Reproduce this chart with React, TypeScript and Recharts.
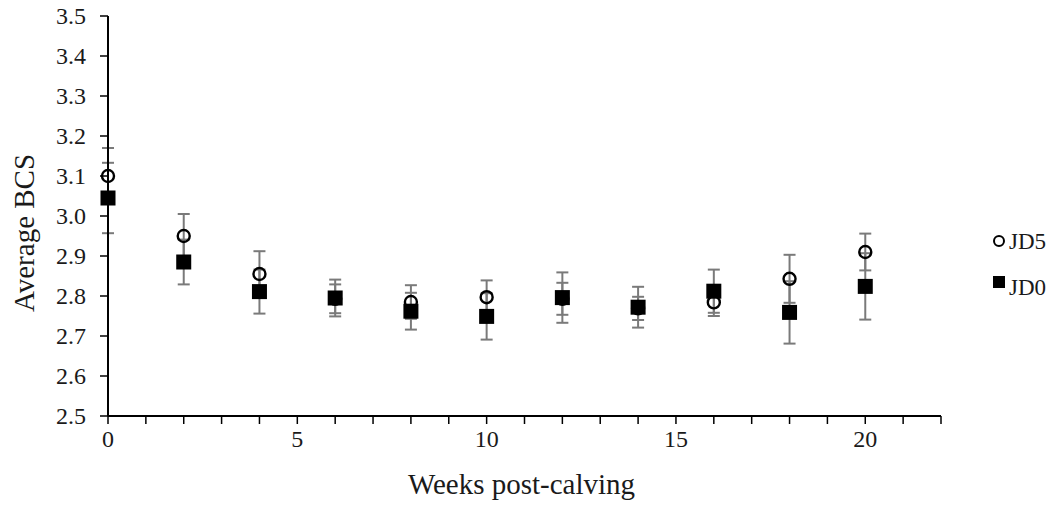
import React from "react";
import { ScatterChart, Scatter, XAxis, YAxis, ErrorBar } from "recharts";

const weeks = [0, 2, 4, 6, 8, 10, 12, 14, 16, 18, 20];
const jd5 = [3.1, 2.95, 2.855, 2.793, 2.785, 2.797, 2.793, 2.769, 2.784, 2.843, 2.91];
const jd5Err = [0.07, 0.055, 0.057, 0.036, 0.042, 0.042, 0.04, 0.029, 0.034, 0.06, 0.046];
const jd0 = [3.045, 2.885, 2.811, 2.795, 2.762, 2.749, 2.796, 2.772, 2.812, 2.759, 2.824];
const jd0Err = [0.088, 0.056, 0.055, 0.046, 0.046, 0.058, 0.063, 0.051, 0.054, 0.078, 0.083];

const xTicks = Array.from({ length: 23 }, (_, i) => i);
const yTicks = [2.5, 2.6, 2.7, 2.8, 2.9, 3.0, 3.1, 3.2, 3.3, 3.4, 3.5];

const jd5Data = weeks.map((w, i) => ({ x: w, y: jd5[i], err: jd5Err[i] }));
const jd0Data = weeks.map((w, i) => ({ x: w, y: jd0[i], err: jd0Err[i] }));

const FONT = "'Liberation Serif', serif";
const TEXT = "#1a1a1a";
const BAR = "#7a7a7a";
const textStyle = { fontFamily: FONT };

const Circle = (p: any) => (
  <circle cx={p.cx} cy={p.cy} r={6} fill="none" stroke="#000" strokeWidth={2.4} />
);
const Square = (p: any) => (
  <rect x={p.cx - 7.5} y={p.cy - 7.5} width={15} height={15} fill="#000" />
);

const XTick = ({ x, y, payload }: any) =>
  payload.value % 5 === 0 ? (
    <text x={x} y={y + 17} textAnchor="middle" style={textStyle} fontSize={24} fill={TEXT}>
      {payload.value}
    </text>
  ) : null;

const YTick = ({ x, y, payload }: any) => (
  <text x={x} y={y + 8} textAnchor="end" style={textStyle} fontSize={24} fill={TEXT}>
    {Number(payload.value).toFixed(1)}
  </text>
);

const YTitle = ({ viewBox }: any) => {
  const x = viewBox.x + 24;
  const y = viewBox.y + viewBox.height / 2 + 17;
  return (
    <text
      x={x}
      y={y}
      transform={`rotate(-90 ${x} ${y})`}
      textAnchor="middle"
      dominantBaseline="central"
      style={textStyle}
      fontSize={29}
      fill={TEXT}
    >
      Average BCS
    </text>
  );
};

const XTitle = ({ viewBox }: any) => (
  <text
    x={viewBox.x + viewBox.width / 2 - 3}
    y={494}
    textAnchor="middle"
    style={textStyle}
    fontSize={29}
    fill={TEXT}
  >
    Weeks post-calving
  </text>
);

const App = () => {
  return (
    <div
      style={{
        position: "absolute",
        left: 0,
        top: 0,
        width: 1062,
        height: 518,
        background: "#fff",
        fontFamily: FONT,
      }}
    >
      <ScatterChart
        width={1062}
        height={518}
        margin={{ top: 16, right: 121, bottom: 2, left: 0 }}
        style={{ fontFamily: FONT }}
      >
        <XAxis
          type="number"
          dataKey="x"
          domain={[0, 22]}
          ticks={xTicks}
          interval={0}
          tick={<XTick />}
          tickSize={8}
          tickMargin={6}
          height={100}
          axisLine={{ stroke: "#000", strokeWidth: 2 }}
          tickLine={{ stroke: "#000", strokeWidth: 1.5 }}
          label={<XTitle />}
        />
        <YAxis
          type="number"
          dataKey="y"
          domain={[2.5, 3.5]}
          ticks={yTicks}
          interval={0}
          tick={<YTick />}
          tickSize={8}
          tickMargin={14}
          width={108}
          axisLine={{ stroke: "#000", strokeWidth: 2 }}
          tickLine={{ stroke: "#000", strokeWidth: 1.5 }}
          label={<YTitle />}
        />
        <Scatter name="JD5" data={jd5Data} shape={Circle} isAnimationActive={false}>
          <ErrorBar dataKey="err" direction="y" width={6} stroke={BAR} strokeWidth={2} />
        </Scatter>
        <Scatter name="JD0" data={jd0Data} shape={Square} isAnimationActive={false}>
          <ErrorBar dataKey="err" direction="y" width={6} stroke={BAR} strokeWidth={2} />
        </Scatter>
      </ScatterChart>
      <svg width={70} height={90} style={{ position: "absolute", left: 988, top: 220 }}>
        <circle cx={11} cy={21} r={5} fill="none" stroke="#000" strokeWidth={2} />
        <text x={21} y={29} fontSize={23} fill={TEXT} style={textStyle}>JD5</text>
        <rect x={5} y={56} width={12} height={12} fill="#000" />
        <text x={21} y={75} fontSize={23} fill={TEXT} style={textStyle}>JD0</text>
      </svg>
    </div>
  );
};

export default App;
